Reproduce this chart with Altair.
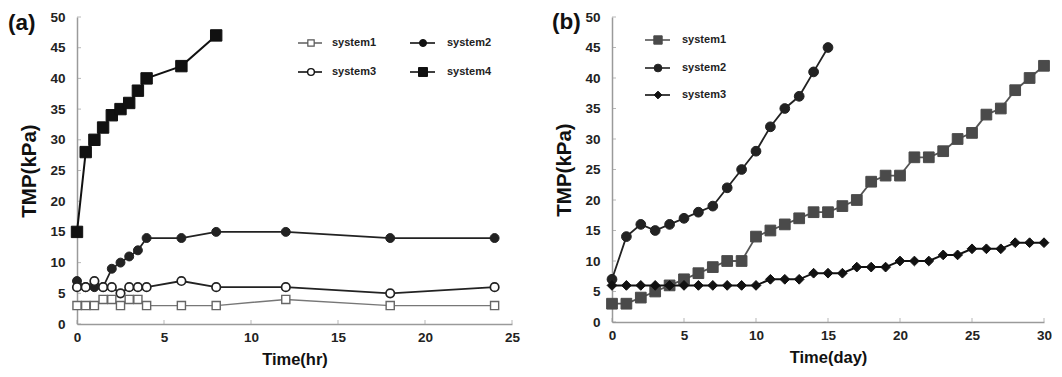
import altair as alt
import pandas as pd

# ---------------- data: panel (a) ----------------
a_time = [0, 0.5, 1, 1.5, 2, 2.5, 3, 3.5, 4, 6, 8, 12, 18, 24]
a_sys1 = [3, 3, 3, 4, 4, 3, 4, 4, 3, 3, 3, 4, 3, 3]
a_sys2 = [7, 6, 6, 6, 9, 10, 11, 12, 14, 14, 15, 15, 14, 14]
a_sys3 = [6, 6, 7, 6, 6, 5, 6, 6, 6, 7, 6, 6, 5, 6]
a_time4 = [0, 0.5, 1, 1.5, 2, 2.5, 3, 3.5, 4, 6, 8]
a_sys4 = [15, 28, 30, 32, 34, 35, 36, 38, 40, 42, 47]

# ---------------- data: panel (b) ----------------
b_day = list(range(0, 31))
b_sys1 = [3, 3, 4, 5, 6, 7, 8, 9, 10, 10, 14, 15, 16, 17, 18, 18, 19, 20, 23, 24,
          24, 27, 27, 28, 30, 31, 34, 35, 38, 40, 42]
b_day2 = list(range(0, 16))
b_sys2 = [7, 14, 16, 15, 16, 17, 18, 19, 22, 25, 28, 32, 35, 37, 41, 45]
b_sys3 = [6, 6, 6, 6, 6, 6, 6, 6, 6, 6, 6, 7, 7, 7, 8, 8, 8, 9, 9, 9,
          10, 10, 10, 11, 11, 12, 12, 12, 13, 13, 13]

y_ticks = list(range(0, 51, 5))
a_x_ticks = list(range(0, 26, 5))
b_x_ticks = list(range(0, 31, 5))

FONT = "Liberation Sans"
AXIS_GRAY = "#9a9a9a"

A_W, A_H = 435, 307
B_W, B_H = 432, 305


def make_axes(xmax, xvals, xtitle):
    xs = alt.Scale(domain=[0, xmax], nice=False, zero=False)
    ys = alt.Scale(domain=[0, 50], nice=False, zero=False)
    xa = alt.Axis(values=xvals, title=xtitle, titleFontSize=16.5, labelPadding=6,
                  titlePadding=8, labelFlush=False)
    ya = alt.Axis(values=y_ticks, title="TMP(kPa)", titleFontSize=20.5, labelPadding=12,
                  titlePadding=10)
    return xs, ys, xa, ya


def series(times, vals, xs, ys, xa, ya, line_color, line_w, shape, size, fill, stroke, sw):
    df = pd.DataFrame({"t": times, "v": vals})
    base = alt.Chart(df).encode(
        x=alt.X("t:Q", scale=xs, axis=xa),
        y=alt.Y("v:Q", scale=ys, axis=ya),
    )
    line = base.mark_line(color=line_color, strokeWidth=line_w)
    pts = base.mark_point(shape=shape, size=size, filled=True, fill=fill, stroke=stroke,
                          strokeWidth=sw, opacity=1)
    return [line, pts]


def legend_entry(x1, x2, xm, xt, y, label, line_color, shape, size, fill, stroke, sw):
    d = pd.DataFrame({"label": [label]})
    rule = alt.Chart(d).mark_rule(color=line_color, strokeWidth=1.6).encode(
        x=alt.value(x1), x2=alt.value(x2), y=alt.value(y))
    pt = alt.Chart(d).mark_point(shape=shape, size=size, filled=True, fill=fill,
                                 stroke=stroke, strokeWidth=sw, opacity=1).encode(
        x=alt.value(xm), y=alt.value(y))
    txt = alt.Chart(d).mark_text(align="left", baseline="middle", font=FONT, fontSize=11,
                                 fontWeight="bold", color="#222").encode(
        x=alt.value(xt), y=alt.value(y), text="label:N")
    return [rule, pt, txt]


def inner_ticks(xvals, xs, ys, xa, ya, h):
    yt = alt.Chart(pd.DataFrame({"v": y_ticks})).mark_tick(
        orient="horizontal", size=4, thickness=1, color=AXIS_GRAY).encode(
        y=alt.Y("v:Q", scale=ys, axis=ya), x=alt.value(2))
    xt = alt.Chart(pd.DataFrame({"t": xvals})).mark_tick(
        orient="vertical", size=4, thickness=1, color=AXIS_GRAY).encode(
        x=alt.X("t:Q", scale=xs, axis=xa), y=alt.value(h - 2))
    return [yt, xt]


def panel_label(text, x, y):
    return alt.Chart(pd.DataFrame({"label": [text]})).mark_text(
        align="left", baseline="middle", font=FONT, fontSize=22.5, fontWeight="bold",
        color="#111").encode(x=alt.value(x), y=alt.value(y), text="label:N")


# ---------------- panel (a) ----------------
xs, ys, xa, ya = make_axes(25, a_x_ticks, "Time(hr)")
layers_a = []
layers_a += inner_ticks(a_x_ticks, xs, ys, xa, ya, A_H)
layers_a += series(a_time4, a_sys4, xs, ys, xa, ya, "#111", 2, "square", 130, "#111", "#111", 1)
layers_a += series(a_time, a_sys2, xs, ys, xa, ya, "#222", 1.8, "circle", 80, "#222", "#222", 1)
layers_a += series(a_time, a_sys3, xs, ys, xa, ya, "#222", 1.8, "circle", 72, "white", "#222", 1.7)
layers_a += series(a_time, a_sys1, xs, ys, xa, ya, "#777", 1.4, "square", 66, "white", "#666", 1.4)
layers_a += legend_entry(221, 245, 234, 255, 26, "system1", "#666", "square", 40, "white", "#555", 1.2)
layers_a += legend_entry(333, 358, 346, 370, 26, "system2", "#111", "circle", 50, "#111", "#111", 1)
layers_a += legend_entry(221, 245, 234, 255, 55, "system3", "#111", "circle", 45, "white", "#111", 1.4)
layers_a += legend_entry(333, 358, 346, 370, 55, "system4", "#111", "square", 80, "#111", "#111", 1)
layers_a.append(panel_label("(a)", -69, 5.5))
panel_a = alt.layer(*layers_a).properties(width=A_W, height=A_H)

# ---------------- panel (b) ----------------
xs, ys, xa, ya = make_axes(30, b_x_ticks, "Time(day)")
layers_b = []
layers_b += inner_ticks(b_x_ticks, xs, ys, xa, ya, B_H)
layers_b += series(b_day, b_sys1, xs, ys, xa, ya, "#555", 1.8, "square", 115, "#4a4a4a", "#4a4a4a", 1)
layers_b += series(b_day2, b_sys2, xs, ys, xa, ya, "#222", 1.8, "circle", 95, "#222", "#222", 1)
layers_b += series(b_day, b_sys3, xs, ys, xa, ya, "#111", 2, "diamond", 95, "#111", "#111", 1)
layers_b += legend_entry(33, 58, 46, 70, 23, "system1", "#555", "square", 70, "#4a4a4a", "#4a4a4a", 1)
layers_b += legend_entry(33, 58, 46, 70, 51, "system2", "#222", "circle", 60, "#222", "#222", 1)
layers_b += legend_entry(33, 58, 46, 70, 78, "system3", "#111", "diamond", 60, "#111", "#111", 1)
layers_b.append(panel_label("(b)", -60, 4.5))
panel_b = alt.layer(*layers_b).properties(width=B_W, height=B_H)

chart = alt.hconcat(panel_a, panel_b, spacing=32).properties(
    padding={"left": 0, "top": 2, "right": 0, "bottom": 0}
).configure_view(stroke=None).configure_axis(
    grid=False, ticks=False, domainColor=AXIS_GRAY, domainWidth=1.5,
    labelFont=FONT, labelFontSize=13.5, labelFontWeight="bold", labelColor="#222",
    titleFont=FONT, titleFontWeight="bold", titleColor="#111",
)

chart.save("out.html", embed_options={"renderer": "svg", "actions": False})
